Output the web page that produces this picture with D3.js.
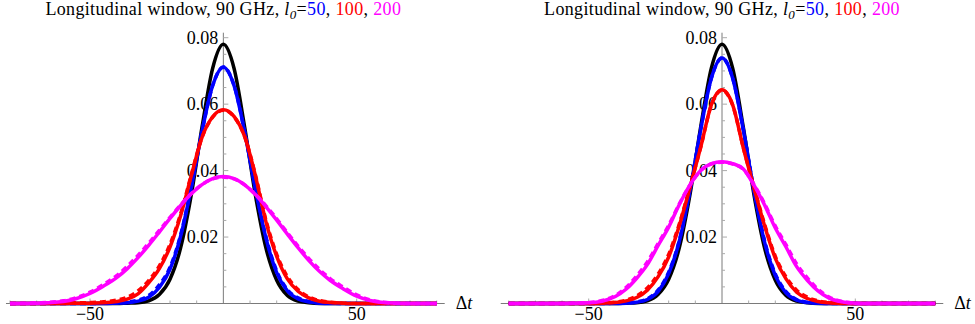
<!DOCTYPE html>
<html>
<head>
<meta charset="utf-8">
<script src="https://cdn.jsdelivr.net/npm/d3@7/dist/d3.min.js"></script>
<style>
  body { margin: 0; background: #fff; }
  svg { display: block; }
  .lbl { font-family: "Liberation Serif", "Times New Roman", Times, serif; font-size: 18px; fill: #000; }
  .title { letter-spacing: 0.35px; }
</style>
</head>
<body>
<div id="chart"></div>
<script>
var width = 975;
var height = 324;

// sample positions (Δt)
var dt = [-80, -70, -60, -55, -50, -45, -40, -36, -32, -28, -24, -20, -16, -12, -8, -4, 0,
          4, 8, 12, 16, 20, 24, 28, 32, 36, 40, 45, 50, 55, 60, 70, 80];

// reference gaussian, same in both panels
var black = [0, 0, 0, 0, 0, 0, 0, .0001, .0002, .0008, .0027, .0073, .0168, .0328, .0531, .0708, .0780,
             .0708, .0530, .0327, .0166, .0070, .0024, .0007, .0002, 0, 0, 0, 0, 0, 0, 0, 0];

// left panel
var leftBlue = [0, 0, 0, 0, 0, 0, .0001, .0002, .0007, .0019, .0048, .0103, .0203, .0350, .0518, .0656, .0711,
                .0656, .0515, .0345, .0196, .0093, .0038, .0014, .0005, .0001, 0, 0, 0, 0, 0, 0, 0];
var leftBlueDash = [0, 0, 0, 0, 0, .0001, .0002, .0004, .0010, .0024, .0056, .0109, .0207, .0352, .0518, .0656, .0712,
                    .0657, .0517, .0348, .0200, .0098, .0042, .0017, .0006, .0002, .0001, 0, 0, 0, 0, 0, 0];
var leftRed = [0, 0, 0, .0001, .0001, .0002, .0006, .0013, .0029, .0062, .0105, .0170, .0265, .0385, .0500, .0562, .0583,
               .0563, .0502, .0385, .0245, .0142, .0074, .0037, .0017, .0007, .0003, .0001, 0, 0, 0, 0, 0];
var leftRedDash = [0, 0, .0001, .0002, .0003, .0005, .0010, .0019, .0038, .0069, .0113, .0178, .0270, .0388, .0500, .0561, .0582,
                   .0562, .0502, .0388, .0250, .0148, .0081, .0042, .0020, .0009, .0004, .0001, 0, 0, 0, 0, 0];
var leftMagenta = [0, .0001, .0006, .0015, .0030, .0052, .0078, .0105, .0138, .0175, .0215, .0256, .0295, .0330, .0358, .0376, .0382,
                   .0376, .0357, .0328, .0291, .0251, .0209, .0168, .0130, .0097, .0070, .0044, .0022, .0009, .0003, 0, 0];
var leftMagentaDash = [0, .0002, .0008, .0018, .0034, .0057, .0084, .0112, .0145, .0181, .0220, .0259, .0297, .0331, .0358, .0375, .0380,
                       .0375, .0357, .0329, .0294, .0255, .0213, .0173, .0136, .0103, .0075, .0049, .0026, .0011, .0004, 0, 0];

// right panel
var rightBlue = [0, 0, 0, 0, 0, 0, 0, .0001, .0004, .0012, .0036, .0090, .0188, .0340, .0523, .0678, .0739,
                 .0678, .0522, .0338, .0184, .0084, .0032, .0010, .0003, .0001, 0, 0, 0, 0, 0, 0, 0];
var rightBlueDash = [0, 0, 0, 0, 0, 0, .0001, .0002, .0005, .0014, .0040, .0094, .0190, .0342, .0524, .0678, .0739,
                     .0679, .0524, .0341, .0188, .0089, .0036, .0012, .0004, .0001, 0, 0, 0, 0, 0, 0, 0];
var rightRed = [0, 0, 0, 0, 0, .0001, .0003, .0008, .0018, .0040, .0080, .0140, .0235, .0350, .0470, .0598, .0643,
                .0598, .0468, .0348, .0233, .0136, .0074, .0034, .0015, .0006, .0002, 0, 0, 0, 0, 0, 0];
var rightRedDash = [0, 0, 0, 0, 0, .0001, .0004, .0010, .0023, .0047, .0088, .0148, .0240, .0352, .0470, .0597, .0642,
                    .0597, .0469, .0350, .0238, .0142, .0080, .0040, .0019, .0008, .0003, .0001, 0, 0, 0, 0, 0];
var rightMagenta = [0, 0, 0, .0001, .0002, .0007, .0021, .0043, .0076, .0117, .0174, .0230, .0298, .0357, .0400, .0421, .0427,
                    .0421, .0405, .0356, .0296, .0227, .0170, .0111, .0070, .0038, .0017, .0005, .0001, 0, 0, 0, 0];
var rightMagentaDash = [0, 0, 0, .0001, .0003, .0009, .0024, .0048, .0083, .0125, .0180, .0235, .0300, .0357, .0400, .0420, .0425,
                        .0420, .0404, .0358, .0300, .0233, .0177, .0119, .0077, .0043, .0020, .0006, .0001, 0, 0, 0, 0];

var yMajor = [0.02, 0.04, 0.06, 0.08];
var yLabels = ["0.02", "0.04", "0.06", "0.08"];
var xMajor = [-50, 50];
var xLabels = ["\u221250", "50"];
var titleParts = [
  {t: "Longitudinal window, 90 GHz, ", c: "#000"},
  {t: "l", c: "#000", it: true},
  {t: "0", c: "#000", it: true, sub: true},
  {t: "=", c: "#000"},
  {t: "50", c: "#0000ff"},
  {t: ", ", c: "#000"},
  {t: "100", c: "#ff0000"},
  {t: ", ", c: "#000"},
  {t: "200", c: "#ff00ff"}
];

var panels = [
  {xr: [90, 356.7], axisEnd: [-81.5, 83], lines: [
    {v: black, c: "#000"}, {v: leftBlue, c: "#0000ff"}, {v: leftBlueDash, c: "#0000ff", d: true},
    {v: leftRed, c: "#ff0000"}, {v: leftRedDash, c: "#ff0000", d: true},
    {v: leftMagenta, c: "#ff00ff"}, {v: leftMagentaDash, c: "#ff00ff", d: true}]},
  {xr: [588.7, 855.3], axisEnd: [-83, 83], lines: [
    {v: black, c: "#000"}, {v: rightBlue, c: "#0000ff"}, {v: rightBlueDash, c: "#0000ff", d: true},
    {v: rightRed, c: "#ff0000"}, {v: rightRedDash, c: "#ff0000", d: true},
    {v: rightMagenta, c: "#ff00ff"}, {v: rightMagentaDash, c: "#ff00ff", d: true}]}
];

var svg = d3.select("#chart")
  .append("svg")
  .attr("width", width)
  .attr("height", height);

var yScale = d3.scaleLinear()
  .domain([0, 0.08])
  .range([303.5, 37.7]);

panels.forEach(function(p) {
  var xScale = d3.scaleLinear().domain([-50, 50]).range(p.xr);
  var g = svg.append("g");
  var x0 = xScale(0);
  var yAxisY = yScale(0);

  // axes
  g.append("line")
    .attr("x1", xScale(p.axisEnd[0])).attr("x2", xScale(p.axisEnd[1]))
    .attr("y1", yAxisY).attr("y2", yAxisY)
    .attr("stroke", "#7a7a7a").attr("stroke-width", 1);
  g.append("line")
    .attr("x1", x0).attr("x2", x0)
    .attr("y1", yScale(0.0815)).attr("y2", yAxisY)
    .attr("stroke", "#7a7a7a").attr("stroke-width", 1);

  // x ticks
  d3.range(-80, 81, 10).forEach(function(t) {
    if (t === 0) return;
    var major = xMajor.indexOf(t) >= 0;
    g.append("line")
      .attr("x1", xScale(t)).attr("x2", xScale(t))
      .attr("y1", yAxisY).attr("y2", yAxisY - (major ? 5 : 3))
      .attr("stroke", "#aaa").attr("stroke-width", 1);
  });
  xMajor.forEach(function(t, i) {
    g.append("text")
      .attr("class", "lbl")
      .attr("x", xScale(t)).attr("y", 320)
      .attr("text-anchor", "middle")
      .text(xLabels[i]);
  });

  // y ticks
  d3.range(1, 17).forEach(function(k) {
    var v = k * 0.005;
    var major = k % 4 === 0;
    g.append("line")
      .attr("x1", x0).attr("x2", x0 + (major ? 5 : 3))
      .attr("y1", yScale(v)).attr("y2", yScale(v))
      .attr("stroke", "#aaa").attr("stroke-width", 1);
  });
  yMajor.forEach(function(v, i) {
    g.append("text")
      .attr("class", "lbl")
      .attr("x", x0 - 5).attr("y", yScale(v) + 6)
      .attr("text-anchor", "end")
      .text(yLabels[i]);
  });

  // curves
  var line = d3.line()
    .x(function(d, i) { return xScale(dt[i]); })
    .y(function(d) { return yScale(d); })
    .curve(d3.curveMonotoneX);

  p.lines.forEach(function(l) {
    g.append("path")
      .attr("d", line(l.v))
      .attr("fill", "none")
      .attr("stroke", l.c)
      .attr("stroke-width", 3.5)
      .attr("stroke-dasharray", l.d ? "6,4" : null)
      .attr("stroke-linejoin", "round");
  });

  // Δt label
  var dl = g.append("text")
    .attr("class", "lbl")
    .attr("x", xScale(p.axisEnd[1]) + 11).attr("y", yAxisY + 5);
  dl.append("tspan").text("\u0394");
  dl.append("tspan").style("font-style", "italic").text("t");

  // title
  var title = g.append("text")
    .attr("class", "lbl title")
    .attr("x", x0).attr("y", 14.5)
    .attr("text-anchor", "middle");
  titleParts.forEach(function(part, i) {
    var ts = title.append("tspan").attr("fill", part.c).text(part.t);
    if (part.it) ts.style("font-style", "italic");
    if (part.sub) ts.attr("dy", 4).style("font-size", "13px");
    var prev = titleParts[i - 1];
    if (prev && prev.sub) ts.attr("dy", -4);
  });
});
</script>
</body>
</html>
